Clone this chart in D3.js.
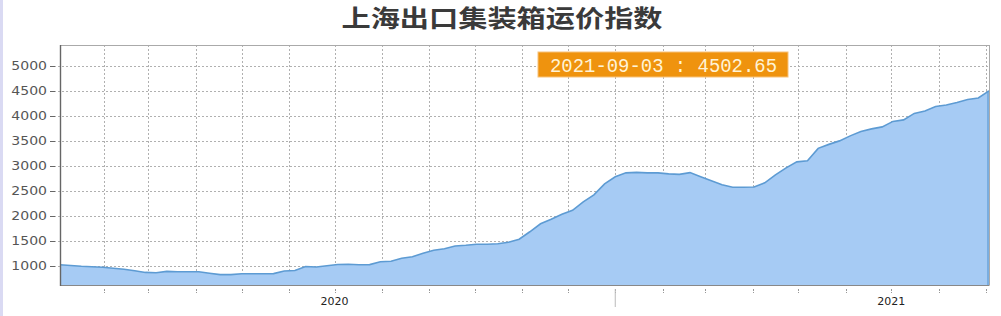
<!DOCTYPE html>
<html>
<head>
<meta charset="utf-8">
<script src="https://cdn.jsdelivr.net/npm/d3@7"></script>
<style>
  html, body { margin: 0; padding: 0; background: #fff; }
  svg { display: block; }
</style>
</head>
<body>
<svg id="svg1" width="1001" height="316"></svg>
<script>
// weekly index, first friday of the series
var startDate = "2020-01-03";
var values = [
  1020, 1005, 990, 980, 970, 950, 930, 900, 866, 860,
  887, 880, 878, 878, 850, 822, 822, 838, 840, 840,
  842, 895, 905, 985, 975, 1000, 1025, 1030, 1020, 1022,
  1080, 1090, 1150, 1180, 1250, 1310, 1340, 1395, 1410, 1430,
  1430, 1440, 1470, 1530, 1680, 1840, 1930, 2030, 2110, 2280,
  2420, 2640, 2780, 2860, 2870, 2860, 2860, 2840, 2830, 2865,
  2780, 2700, 2620, 2570, 2570, 2575, 2660, 2820, 2960, 3080,
  3100, 3350, 3430, 3500, 3600, 3690, 3740, 3780, 3890, 3920,
  4050, 4100, 4190, 4220, 4270, 4330, 4360, 4502.65
];
var yTicks = [1000, 1500, 2000, 2500, 3000, 3500, 4000, 4500, 5000];
var yearLabels = [["2020-07-01", "2020"], ["2021-07-01", "2021"]];
var yearBreaks = ["2021-01-01"];
var title = "上海出口集装箱运价指数";
var badgeText = "2021-09-03 : 4502.65";

(function(){
var parse = d3.utcParse("%Y-%m-%d");
var t0 = parse(startDate);
var data = values.map(function(v, i){ return {date: d3.utcDay.offset(t0, i*7), value: v}; });
var last = data[data.length-1];

var pl = 60, pr = 989, pt = 45, pb = 285;
var svg = d3.select("#svg1");

// lavender strip on the left edge
svg.append("rect").attr("x", 0).attr("y", 0).attr("width", 3).attr("height", 316).attr("fill", "#dadaf3");

var x = d3.scaleUtc().domain([t0, last.date]).range([pl, pr]);
var y = d3.scaleLinear().domain([614, 5420]).range([pb, pt]);

// title
svg.append("text")
  .attr("x", 502).attr("y", 27)
  .attr("text-anchor", "middle")
  .attr("font-family", "Noto Sans CJK SC")
  .attr("font-size", 24).attr("font-weight", 700)
  .attr("fill", "#3a3a3a")
  .attr("textLength", 321).attr("lengthAdjust", "spacingAndGlyphs")
  .text(title);

// grid
var months = d3.utcMonth.range(t0, d3.utcDay.offset(last.date, 1));
svg.append("g").selectAll("line").data(months).join("line")
  .attr("x1", d => Math.round(x(d)) + 0.5).attr("x2", d => Math.round(x(d)) + 0.5)
  .attr("y1", pt).attr("y2", pb)
  .attr("stroke", "#b0b0b0").attr("stroke-width", 1).attr("stroke-dasharray", "2,2");
svg.append("g").selectAll("line").data(yTicks).join("line")
  .attr("x1", 50).attr("x2", pr)
  .attr("y1", d => Math.round(y(d)) + 0.5).attr("y2", d => Math.round(y(d)) + 0.5)
  .attr("stroke", "#b0b0b0").attr("stroke-width", 1).attr("stroke-dasharray", "2,2");

// area + line
var area = d3.area().x(d => x(d.date)).y0(pb).y1(d => y(d.value));
var line = d3.line().x(d => x(d.date)).y(d => y(d.value));
svg.append("path").datum(data).attr("d", area).attr("fill", "#a6cbf4");
svg.append("path").datum(data).attr("d", line)
  .attr("fill", "none").attr("stroke", "#5d9bd3").attr("stroke-width", 1.6);
svg.append("line")
  .attr("x1", x(last.date) - 1).attr("x2", x(last.date) - 1)
  .attr("y1", y(last.value)).attr("y2", pb)
  .attr("stroke", "#5d9bd3").attr("stroke-width", 1.2);

// frame
svg.append("line").attr("x1", pl).attr("x2", pr + 0.5).attr("y1", pt + 0.5).attr("y2", pt + 0.5)
  .attr("stroke", "#aaa");
svg.append("line").attr("x1", pr + 0.5).attr("x2", pr + 0.5).attr("y1", pt).attr("y2", pb)
  .attr("stroke", "#aaa");
svg.append("line").attr("x1", pl).attr("x2", pr + 0.5).attr("y1", pb + 0.5).attr("y2", pb + 0.5)
  .attr("stroke", "#888");
svg.append("line").attr("x1", pl + 0.5).attr("x2", pl + 0.5).attr("y1", pt).attr("y2", pb + 1)
  .attr("stroke", "#666").attr("stroke-width", 1.4);

// y ticks and labels
var yg = svg.append("g").selectAll("g").data(yTicks).join("g");
yg.append("line")
  .attr("x1", 50).attr("x2", 55)
  .attr("y1", d => Math.round(y(d)) + 0.5).attr("y2", d => Math.round(y(d)) + 0.5)
  .attr("stroke", "#666");
yg.append("text")
  .attr("transform", d => "translate(47," + (y(d) + 4.5) + ") scale(1.08,1)")
  .attr("text-anchor", "end")
  .attr("font-family", "DejaVu Sans").attr("font-size", 13)
  .attr("fill", "#555")
  .text(d => d);

// x ticks
svg.append("g").selectAll("line").data(months).join("line")
  .attr("x1", d => Math.round(x(d)) + 0.5).attr("x2", d => Math.round(x(d)) + 0.5)
  .attr("y1", pb + 4).attr("y2", pb + 8)
  .attr("stroke", "#999").attr("stroke-dasharray", "2,1");
svg.append("g").selectAll("line").data(yearBreaks.map(parse)).join("line")
  .attr("x1", d => x(d)).attr("x2", d => x(d))
  .attr("y1", pb + 4).attr("y2", pb + 22)
  .attr("stroke", "#bbb");
svg.append("g").selectAll("text").data(yearLabels).join("text")
  .attr("x", d => x(parse(d[0]))).attr("y", 305)
  .attr("text-anchor", "middle")
  .attr("font-family", "DejaVu Sans").attr("font-size", 11)
  .attr("fill", "#222")
  .text(d => d[1]);

// value badge
svg.append("rect")
  .attr("x", 538).attr("y", 52).attr("width", 250).attr("height", 25)
  .attr("fill", "#ef930e").attr("stroke", "#f7c27a").attr("stroke-width", 1);
svg.append("text")
  .attr("x", 550).attr("y", 71.5)
  .attr("font-family", "Liberation Mono").attr("font-size", 20)
  .attr("fill", "#fff3d6")
  .attr("textLength", 227).attr("lengthAdjust", "spacingAndGlyphs")
  .text(badgeText);
})();
</script>
</body>
</html>
